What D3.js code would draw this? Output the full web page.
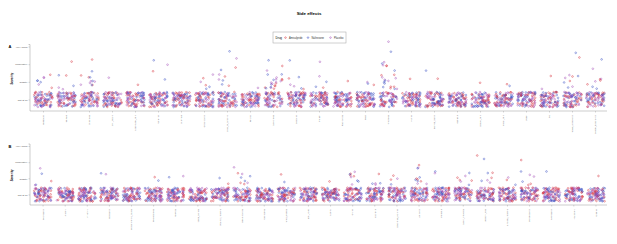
<!DOCTYPE html>
<html><head><meta charset="utf-8">
<script src="https://cdn.jsdelivr.net/npm/d3@7/dist/d3.min.js"></script>
<style>body{margin:0;background:#fff}svg{display:block;font-family:"Liberation Sans",Arial,sans-serif}</style>
</head><body><svg id="c" width="617" height="244"></svg>
<script>
// ---- data ----
const drugs = ["Amisulpride", "Naltrexone", "Placebo"];
const drugColors = ["#d8343f", "#3a4fc4", "#a34fb8"];
const levels = ["Not at all", "Slightly", "Moderately", "Very much"];
const patientsPerCategory = 96;

const catsA = ["Headache","Nausea","Dizziness","Dry_mouth","Abdominal_pain","Vomiting","Diarrhea","Constipation","Loss_of_appetite","Fatigue","Sleepiness","Sweating","Tremor","Palpitations","Rash","Tiredness","Itching","Blurred_vision","Insomnia","Muscle_pain","Chest_pain","Fever","Flu","Nasal_congestion","Sexual_dysfunction"];
const slightA = [8,5,10,1,1,1,0,6,6,1,20,6,4,1,3,15,1,1,0,1,2,0,2,8,7];
const modA    = [0,1,2,0,0,3,0,0,3,0,3,1,1,0,0,6,0,1,0,0,0,0,0,1,2];
const veryA   = [0,0,0,0,0,0,0,0,1,0,0,0,0,0,0,2,0,0,0,0,0,0,0,1,0];

const catsB = ["Depression","Anxiety","Irritability","Confusion","Concentration_issues","Restlessness","Nervous","Mood_swings","Racing_thoughts","Hallucinations","Nightmares","Vivid_dreams","Low_libido","Apathy","Crying","Euphoria","Emotional_blunting","Agitation","Paranoia","Sleep_problems","Memory_loss","Suicidal_thoughts","Derealisation","Aggression","Impulsivity","Craving"];
const slightB = [4,0,0,2,0,2,2,0,2,8,0,2,0,1,9,5,4,8,2,7,6,3,6,1,0,1];
const modB    = [1,0,0,0,0,0,0,0,0,1,0,0,0,0,0,0,0,3,0,0,2,0,1,0,0,0];
const veryB   = [0,0,0,0,0,0,0,0,0,0,0,0,0,0,0,0,0,0,0,0,0,0,0,0,0,0];

// ---- drawing ----
const svg = d3.select("#c");
// deterministic jitter generator (positions only)
function mulberry32(a){return function(){a|=0;a=a+0x6D2B79F5|0;let t=Math.imul(a^a>>>15,1|a);t=t+Math.imul(t^t>>>7,61|t)^t;return((t^t>>>14)>>>0)/4294967296;}}
const rnd = mulberry32(20240611);

svg.append("text").attr("x",309).attr("y",15).attr("text-anchor","middle")
  .attr("font-size",4.4).attr("font-weight","bold").text("Side effects");

// legend
const lg = svg.append("g");
lg.append("rect").attr("x",273).attr("y",32).attr("width",73).attr("height",11)
  .attr("fill","#fff").attr("stroke","#a0a0a0").attr("stroke-width",0.5);
lg.append("text").attr("x",275.5).attr("y",38.7).attr("font-size",3.0).text("Drug");
const lgx = [285.5, 308, 330.5];
drugs.forEach((d,i)=>{
  lg.append("circle").attr("cx",lgx[i]).attr("cy",37.6).attr("r",0.8)
    .attr("fill","none").attr("stroke",drugColors[i]).attr("stroke-width",0.5);
  lg.append("text").attr("x",lgx[i]+3.5).attr("y",38.7).attr("font-size",2.6).attr("fill","#333").text(d);
});

function panel(letter, cats, slight, mod, very, top, axisY){
  const x = d3.scaleBand().domain(cats).range([32, 607]);
  const y = d3.scaleLinear().domain([-0.65, 3]).range([axisY, top]);
  const k = y(0) - y(1);
  const g = svg.append("g");
  g.append("text").attr("x",8.5).attr("y",top+1.5).attr("font-size",4).attr("font-weight","bold").text(letter);
  // y axis
  const ya = d3.axisLeft(y).tickValues([0,1,2,3]).tickFormat(d=>levels[d]).tickSize(1.5).tickPadding(1);
  const yg = g.append("g").attr("transform","translate(30,0)").call(ya);
  yg.select(".domain").attr("stroke","#999").attr("stroke-width",0.5).attr("d",`M-1.5,${top-2}H0V${axisY}`);
  yg.selectAll(".tick line").attr("stroke","#999").attr("stroke-width",0.4);
  yg.selectAll(".tick text").attr("font-size",2.5).attr("fill","#555").attr("font-family","Liberation Sans, Arial, sans-serif");
  g.append("text").attr("transform",`translate(12.5,${(top+axisY)/2}) rotate(-90)`)
    .attr("text-anchor","middle").attr("font-size",3).attr("font-weight","bold").text("Severity");
  // x axis
  const xa = d3.axisBottom(x).tickSize(1.5).tickPadding(1);
  const xg = g.append("g").attr("transform",`translate(0,${axisY})`).call(xa);
  xg.select(".domain").attr("stroke","#999").attr("stroke-width",0.5).attr("d","M30,0H607");
  xg.selectAll(".tick line").attr("stroke","#999").attr("stroke-width",0.4);
  xg.selectAll(".tick text").attr("font-size",2.2).attr("fill","#666")
    .attr("font-family","Liberation Sans, Arial, sans-serif")
    .attr("text-anchor","end").attr("dy","0.32em")
    .attr("transform","translate(0,4) rotate(-90)").attr("x",0).attr("y",0);
  // points
  const pts = [];
  cats.forEach((c,ci)=>{
    const counts = [patientsPerCategory - slight[ci]-mod[ci]-very[ci], slight[ci], mod[ci], very[ci]];
    let idx = 0;
    counts.forEach((n,lv)=>{
      for(let j=0;j<n;j++){
        pts.push({cat:c, lv, drug:(idx+ci)%3});
        idx++;
      }
    });
  });
  const bw = x.bandwidth();
  g.append("g").selectAll("circle").data(pts).join("circle")
    .attr("cx",d=>x(d.cat)+bw/2+(rnd()-0.5)*bw*0.8)
    .attr("cy",d=>y(d.lv)+(rnd()-0.5)*k*0.85)
    .attr("r",0.85).attr("fill","none")
    .attr("stroke",d=>drugColors[d.drug]).attr("stroke-width",0.5).attr("stroke-opacity",0.9);
}
panel("A", catsA, slightA, modA, veryA, 46.5, 111);
panel("B", catsB, slightB, modB, veryB, 146, 205);
</script></body></html>
